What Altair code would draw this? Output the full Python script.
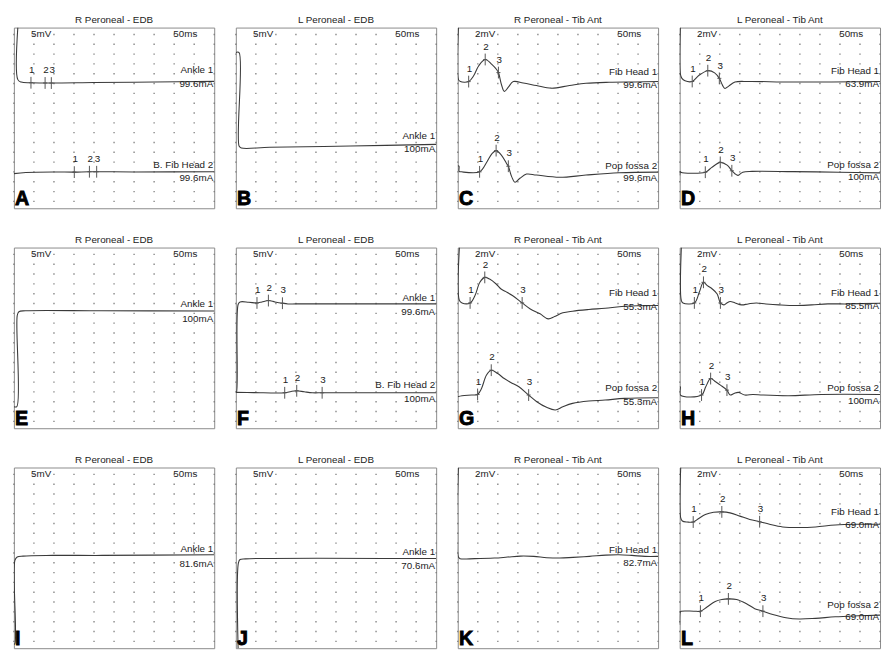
import altair as alt
import numpy as np
import pandas as pd

# ---------------- data (x in ms, y in grid rows of the display) ----------------
TITLES = ["R Peroneal - EDB", "L Peroneal - EDB", "R Peroneal - Tib Ant", "L Peroneal - Tib Ant"] * 3
LETTERS = list("ABCDEFGHIJKL")
GAINS = ["5mV", "5mV", "2mV", "2mV"] * 3
SWEEP = "50ms"

A1_X = [0.98, 0.98, 1.8, 4.26, 9.3, 20, 35, 50]
A1_Y = [18.4, 13.1, 12.85, 12.78, 12.75, 12.8, 12.86, 12.92]
A2_X = [0, 3, 10, 15.08, 18.85, 30, 50]
A2_Y = [3.53, 3.65, 3.7, 3.68, 3.72, 3.7, 3.72]
A1_M = [4.26, 7.79, 9.34]
A2_M = [15.08, 18.85, 20.66]
A_LAB = ["Ankle 1", "99.6mA", "B. Fib Head 2", "99.6mA"]
A_LAB_Y = [14.04, 12.6, 4.36, 3.04]

B1_X = [0, 0.81, 0.81, 1.37, 8.47, 28.6, 50]
B1_Y = [15.86, 15.86, 6.34, 6.14, 6.21, 6.34, 6.51]
B_LAB = ["Ankle 1", "100mA"]
B_LAB_Y = [7.33, 6.01]

C1_X = [0.17, 0.17, 0.66, 2.72, 3.96, 5.2, 6.85, 8.5, 9.74, 10.15, 10.97, 11.63, 12.62, 13.86, 16.34, 19.64, 23.35, 27.89, 32.01, 37.79, 44.39, 50]
C1_Y = [18.4, 13.1, 12.9, 12.9, 13.49, 14.49, 15.15, 14.65, 14.1, 13.82, 12.5, 11.9, 12.33, 12.9, 12.76, 12.5, 12.23, 12.5, 12.73, 12.83, 12.86, 12.9]
C2_X = [0, 0.3, 0.35, 0.9, 5.45, 7.26, 8.5, 9.57, 10.97, 12.21, 12.62, 13.45, 14.27, 15.51, 17.16, 19.64, 25.41, 32.01, 40.26, 50]
C2_Y = [4.3, 4.3, 3.75, 3.71, 3.71, 4.71, 5.54, 5.87, 5.37, 4.54, 4.28, 3.22, 2.65, 3.05, 3.48, 3.38, 3.15, 3.38, 3.61, 3.68]
C1_M = [2.72, 6.85, 10.15]
C2_M = [5.45, 9.57, 12.62]
C_LAB = ["Fib Head 1", "99.6mA", "Pop fossa 2", "99.6mA"]
C_LAB_Y = [13.89, 12.5, 4.31, 3.05]

D1_X = [0.16, 0.16, 0.55, 1.32, 3.12, 4.83, 7.01, 8.72, 9.89, 10.67, 11.29, 12.23, 13.79, 17.29, 28.19, 50]
D1_Y = [18.4, 13.7, 13.23, 12.98, 12.91, 13.54, 14.01, 13.79, 13.23, 12.54, 12.2, 12.44, 12.85, 12.91, 12.85, 12.91]
D2_X = [0, 0.16, 0.3, 6.39, 7.94, 10.12, 11.84, 13.01, 13.79, 14.56, 15.73, 18.07, 28.19, 39.88, 50]
D2_Y = [3.35, 3.75, 3.67, 3.67, 4.14, 4.67, 4.39, 3.82, 3.51, 3.35, 3.67, 3.76, 3.73, 3.67, 3.6]
D1_M = [3.12, 7.01, 9.89]
D2_M = [6.39, 10.12, 13.01]
D_LAB = ["Fib Head 1", "63.9mA", "Pop fossa 2", "100mA"]
D_LAB_Y = [13.95, 12.66, 4.45, 3.2]

E1_X = [0, 0.74, 0.83, 1.24, 2.89, 21.9, 50]
E1_Y = [2.2, 2.2, 11.47, 11.86, 11.96, 11.96, 11.93]
E_LAB = ["Ankle 1", "100mA"]
E_LAB_Y = [12.63, 11.12]

F1_X = [0, 0.16, 0.57, 1.06, 3.25, 5.28, 6.5, 8.13, 9.76, 11.63, 13.01, 15.04, 28.86, 50]
F1_Y = [3.65, 3.65, 12.6, 12.86, 12.83, 12.76, 12.86, 13.0, 12.86, 12.73, 12.66, 12.66, 12.66, 12.66]
F2_X = [0, 4.47, 12.2, 13.82, 15.2, 17.07, 19.1, 21.54, 28.86, 50]
F2_Y = [3.65, 3.63, 3.61, 3.75, 3.81, 3.71, 3.61, 3.61, 3.61, 3.61]
F1_M = [5.28, 8.13, 11.63]
F2_M = [12.2, 15.2, 21.54]
F_LAB = ["Ankle 1", "99.6mA", "B. Fib Head 2", "100mA"]
F_LAB_Y = [13.26, 11.87, 4.41, 2.98]

G1_X = [0.41, 0.41, 1.06, 3.08, 4.3, 5.52, 6.74, 7.95, 9.58, 10.8, 12.01, 13.64, 16.07, 18.1, 20.54, 22.56, 24.19, 26.22, 28.65, 32.71, 36.77, 41.64, 50]
G1_Y = [18.4, 13.0, 12.76, 12.76, 13.51, 14.86, 15.36, 15.19, 14.69, 14.18, 13.91, 13.51, 12.76, 12.15, 11.65, 11.14, 11.38, 11.75, 11.92, 12.09, 12.22, 12.42, 12.49]
G2_X = [0, 1.06, 3.49, 4.95, 5.93, 7.14, 8.36, 9.98, 11.61, 13.23, 15.26, 17.69, 19.72, 22.16, 24.35, 26.22, 28.65, 32.71, 36.77, 41.64, 50]
G2_Y = [3.21, 3.31, 3.38, 3.44, 4.05, 5.4, 5.91, 5.57, 5.06, 4.66, 4.22, 3.38, 2.7, 2.13, 1.86, 2.19, 2.53, 2.77, 2.87, 3.04, 3.11]
G1_M = [3.08, 6.74, 16.07]
G2_M = [4.95, 8.36, 17.69]
G_LAB = ["Fib Head 1", "55.3mA", "Pop fossa 2", "55.3mA"]
G_LAB_Y = [13.77, 12.32, 4.05, 2.63]

H1_X = [0.41, 0.41, 0.81, 3.66, 4.88, 5.93, 6.91, 8.13, 9.35, 10.16, 10.98, 11.79, 12.6, 13.82, 15.45, 17.07, 19.11, 21.54, 24.8, 28.86, 32.93, 36.99, 41.87, 50]
H1_Y = [18.4, 13.0, 12.76, 12.76, 13.84, 14.86, 14.52, 14.18, 13.67, 12.76, 12.56, 12.76, 12.9, 12.76, 12.56, 12.66, 12.76, 12.66, 12.56, 12.49, 12.56, 12.66, 12.66, 12.73]
H2_X = [0, 0.16, 0.2, 5.45, 6.5, 7.72, 8.94, 10.16, 11.79, 12.6, 13.58, 14.63, 16.26, 18.29, 20.73, 27.24, 35.37, 50]
H2_Y = [4.22, 4.22, 3.38, 3.38, 4.22, 5.06, 4.73, 4.39, 3.88, 3.38, 3.54, 3.65, 3.38, 3.44, 3.38, 3.31, 3.44, 3.44]
H1_M = [3.66, 5.93, 10.16]
H2_M = [5.45, 7.72, 11.79]
H_LAB = ["Fib Head 1", "85.5mA", "Pop fossa 2", "100mA"]
H_LAB_Y = [13.77, 12.42, 4.12, 2.77]

I1_X = [0, 0.25, 0.25, 0.82, 2.3, 9.7, 22.0, 50]
I1_Y = [0.43, 0.43, 8.95, 9.28, 9.38, 9.45, 9.45, 9.52]
I_LAB = ["Ankle 1", "81.6mA"]
I_LAB_Y = [10.05, 8.52]

J1_X = [0.57, 0.65, 1.05, 2.43, 50]
J1_Y = [0, 8.69, 9.03, 9.1, 9.13]
J_LAB = ["Ankle 1", "70.6mA"]
J_LAB_Y = [9.77, 8.36]

K1_X = [0.16, 0.16, 0.57, 4.25, 9.15, 12.42, 15.69, 18.95, 22.22, 25.49, 28.76, 32.84, 36.93, 40.2, 43.46, 46.73, 50]
K1_Y = [18.4, 9.28, 9.12, 9.12, 9.18, 9.28, 9.38, 9.35, 9.22, 9.18, 9.25, 9.35, 9.48, 9.52, 9.45, 9.35, 9.35]
K_LAB = ["Fib Head 1", "82.7mA"]
K_LAB_Y = [10.02, 8.68]

L1_X = [0.25, 0.25, 0.66, 1.89, 3.37, 4.76, 6.4, 8.46, 10.51, 12.56, 15.02, 17.49, 19.95, 22.41, 25.7, 29.8, 33.91, 38.83, 44.58, 50]
L1_Y = [18.4, 13.28, 12.95, 12.85, 12.85, 13.21, 13.61, 13.84, 13.88, 13.78, 13.45, 13.11, 12.88, 12.62, 12.35, 12.29, 12.35, 12.55, 12.62, 12.62]
L2_X = [0, 0.16, 0.41, 3.53, 5.17, 6.81, 8.87, 10.51, 12.15, 14.2, 16.67, 18.72, 20.77, 23.23, 26.52, 29.8, 33.91, 38.83, 44.58, 50]
L2_Y = [2.38, 3.7, 3.77, 3.77, 3.77, 4.2, 4.76, 4.96, 5.02, 4.96, 4.53, 4.03, 3.77, 3.44, 3.11, 2.97, 3.04, 3.2, 3.3, 3.37]
L1_M = [3.37, 10.51, 19.95]
L2_M = [5.17, 12.15, 20.77]
L_LAB = ["Fib Head 1", "69.0mA", "Pop fossa 2", "69.0mA"]
L_LAB_Y = [13.88, 12.52, 4.43, 3.2]

GRID_X = [0, 5, 10, 15, 20, 25, 30, 35, 40, 45, 50]
GRID_Y = [0.7 + k for k in range(18)]

PANELS = [
    ([(A1_X, A1_Y, A1_M), (A2_X, A2_Y, A2_M)], A_LAB, A_LAB_Y),
    ([(B1_X, B1_Y, [])], B_LAB, B_LAB_Y),
    ([(C1_X, C1_Y, C1_M), (C2_X, C2_Y, C2_M)], C_LAB, C_LAB_Y),
    ([(D1_X, D1_Y, D1_M), (D2_X, D2_Y, D2_M)], D_LAB, D_LAB_Y),
    ([(E1_X, E1_Y, [])], E_LAB, E_LAB_Y),
    ([(F1_X, F1_Y, F1_M), (F2_X, F2_Y, F2_M)], F_LAB, F_LAB_Y),
    ([(G1_X, G1_Y, G1_M), (G2_X, G2_Y, G2_M)], G_LAB, G_LAB_Y),
    ([(H1_X, H1_Y, H1_M), (H2_X, H2_Y, H2_M)], H_LAB, H_LAB_Y),
    ([(I1_X, I1_Y, [])], I_LAB, I_LAB_Y),
    ([(J1_X, J1_Y, [])], J_LAB, J_LAB_Y),
    ([(K1_X, K1_Y, [])], K_LAB, K_LAB_Y),
    ([(L1_X, L1_Y, L1_M), (L2_X, L2_Y, L2_M)], L_LAB, L_LAB_Y),
]

# ---------------- styling ----------------
W, H = 204, 184
FONT = "Liberation Sans"
TRACE = "#3a3a3a"
XS = alt.Scale(domain=[0, 50], nice=False, zero=False)
YS = alt.Scale(domain=[0, 18.4], nice=False, zero=False)

grid_df = pd.DataFrame([(gx, gy) for gx in GRID_X for gy in GRID_Y], columns=["x", "y"])


def make_panel(i):
    traces, lab, lab_y = PANELS[i]
    rows, ticks, nums = [], [], []
    for t, (xs, ys, ms) in enumerate(traces):
        for k, (xv, yv) in enumerate(zip(xs, ys)):
            rows.append({"x": xv, "y": yv, "trace": t, "o": k})
        for n, mx in enumerate(ms):
            my = float(np.interp(mx, xs, ys))
            ticks.append({"x": mx, "x2": mx, "y": my - 0.6, "y2": my + 0.6})
            ticks.append({"x": mx - 0.5, "x2": mx + 0.5, "y": my, "y2": my})
            nums.append({"x": mx + 0.2, "y": my + 1.3, "t": str(n + 1)})
    tr_df = pd.DataFrame(rows)
    lab_df = pd.DataFrame({"x": [50] * len(lab), "y": lab_y, "t": lab})
    hdr_df = pd.DataFrame({"x": [4.3, 39.8], "y": [17.7, 17.7], "t": [GAINS[i], SWEEP]})
    let_df = pd.DataFrame({"x": [0.3], "y": [0.3], "t": [LETTERS[i]]})

    X = alt.X("x:Q", scale=XS, axis=None)
    Y = alt.Y("y:Q", scale=YS, axis=None)

    layers = [
        alt.Chart(grid_df).mark_square(size=2, color="#7a7a7a", opacity=0.9).encode(x=X, y=Y),
        alt.Chart(tr_df).mark_line(color=TRACE, strokeWidth=1.1, clip=True, interpolate="catmull-rom").encode(
            x=X, y=Y, detail="trace:N", order="o:Q"),
    ]
    if ticks:
        tk_df = pd.DataFrame(ticks)
        nm_df = pd.DataFrame(nums)
        layers.append(alt.Chart(tk_df).mark_rule(color="#555", strokeWidth=1).encode(
            x=X, x2="x2:Q", y=Y, y2="y2:Q"))
        layers.append(alt.Chart(nm_df).mark_text(font=FONT, fontSize=10, color="#222", baseline="middle").encode(
            x=X, y=Y, text="t:N"))
    layers += [
        alt.Chart(lab_df).mark_text(font=FONT, fontSize=10, color="#222", align="right", dx=-1,
                                    baseline="middle").encode(x=X, y=Y, text="t:N"),
        alt.Chart(hdr_df).mark_text(font=FONT, fontSize=10, color="#222", align="left",
                                    baseline="middle").encode(x=X, y=Y, text="t:N"),
        alt.Chart(let_df).mark_text(font=FONT, fontSize=20, fontWeight="bold", color="black", stroke="black",
                                    strokeWidth=0.9, align="left", baseline="alphabetic").encode(
            x=X, y=Y, text="t:N"),
    ]
    return alt.layer(*layers).properties(
        width=W, height=H,
        title=alt.TitleParams(TITLES[i], fontSize=10, font=FONT, fontWeight="normal", color="#222",
                              offset=3, anchor="middle"),
    )


rows_ = [alt.hconcat(*[make_panel(r * 4 + c) for c in range(4)], spacing=18) for r in range(3)]
chart = alt.vconcat(*rows_, spacing=24).properties(
    padding={"left": 4, "top": 0, "right": 0, "bottom": 0}
).configure_view(stroke="#8a8a8a", strokeWidth=1)

chart.save("out.html", embed_options={"renderer": "svg", "actions": False})
